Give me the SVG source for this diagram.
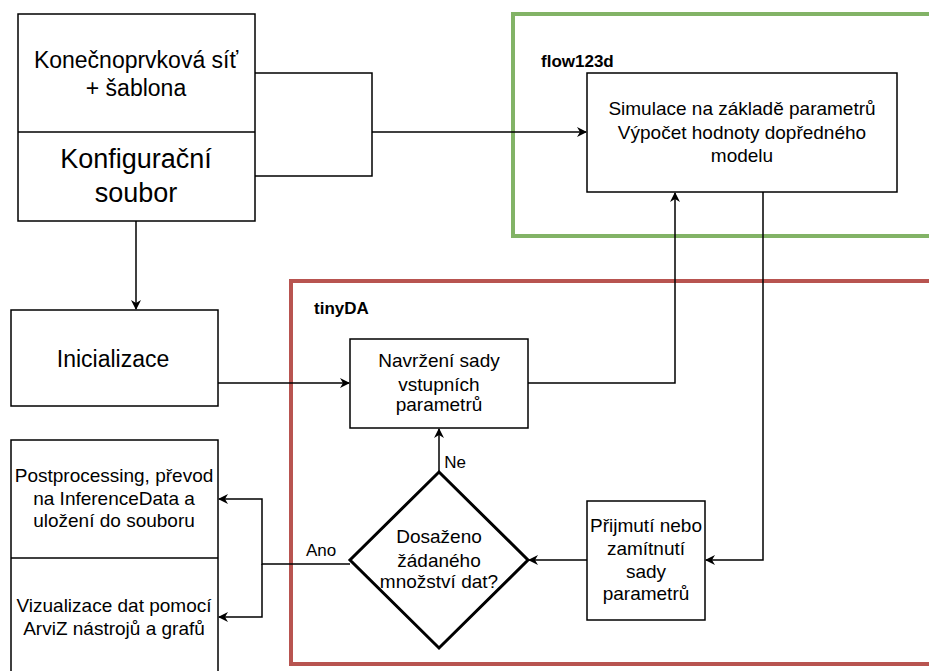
<svg xmlns="http://www.w3.org/2000/svg" width="929" height="671" viewBox="0 0 929 671">
<defs>
<style>
.box{fill:#fff;stroke:#000;stroke-width:1.5}
.t{font-family:"Liberation Sans",Arial,sans-serif;fill:#000;text-anchor:middle}
.s{font-size:19px}
.lbl{font-family:"Liberation Sans",Arial,sans-serif;font-weight:bold;font-size:17px;fill:#000}
.c{fill:none;stroke:#000;stroke-width:1.5}
</style>
<marker id="ah" viewBox="0 0 10 10" refX="9" refY="5" markerWidth="10" markerHeight="10" markerUnits="userSpaceOnUse" orient="auto">
<path d="M0,0 L10,5 L0,10 L3,5 Z" fill="#000"/>
</marker>
</defs>
<rect width="929" height="671" fill="#fff"/>
<g id="flow123d">
<rect x="513" y="14" width="430" height="222" fill="none" stroke="#82b366" stroke-width="4"/>
<text class="lbl" x="541" y="67">flow123d</text>
</g>
<g id="tinyDA">
<rect x="291" y="281" width="660" height="383" fill="none" stroke="#b85450" stroke-width="4"/>
<text class="lbl" x="314" y="314">tinyDA</text>
</g>
<g id="connectors">
<path class="c" d="M255,73 H372 V176 H255"/>
<path class="c" d="M372,132 H586" marker-end="url(#ah)"/>
<path class="c" d="M136,221 V309" marker-end="url(#ah)"/>
<path class="c" d="M218,383 H349" marker-end="url(#ah)"/>
<path class="c" d="M528,383 H675 V193" marker-end="url(#ah)"/>
<path class="c" d="M763,192 V560 H706" marker-end="url(#ah)"/>
<path class="c" d="M587,560 H529" marker-end="url(#ah)"/>
<path class="c" d="M439,472 V429" marker-end="url(#ah)"/>
<path class="c" d="M350,564 H262 V499 H219" marker-end="url(#ah)"/>
<path class="c" d="M262,564 V617 H219" marker-end="url(#ah)"/>
<text class="t" x="455" y="468" font-size="17">Ne</text>
<text class="t" x="321" y="556" font-size="17">Ano</text>
</g>
<g id="inputs">
<rect class="box" x="18" y="14" width="237" height="207"/>
<line x1="18" y1="132" x2="255" y2="132" stroke="#000" stroke-width="1.5"/>
<text class="t" x="136" y="68" font-size="23">Konečnoprvková síť</text>
<text class="t" x="136" y="96" font-size="23">+ šablona</text>
<text class="t" x="136" y="168" font-size="27">Konfigurační</text>
<text class="t" x="136" y="202" font-size="27">soubor</text>
</g>
<g id="simulace">
<rect class="box" x="587" y="73" width="310" height="119"/>
<text class="t s" x="742" y="115">Simulace na základě parametrů</text>
<text class="t s" x="742" y="139">Výpočet hodnoty dopředného</text>
<text class="t s" x="742" y="162">modelu</text>
</g>
<g id="inicializace">
<rect class="box" x="11" y="310" width="207" height="96"/>
<text class="t" x="113" y="367" font-size="23">Inicializace</text>
</g>
<g id="navrzeni">
<rect class="box" x="350" y="339" width="178" height="89"/>
<text class="t s" x="439" y="367">Navržení sady</text>
<text class="t s" x="439" y="391">vstupních</text>
<text class="t s" x="439" y="411">parametrů</text>
</g>
<g id="vystupy">
<rect class="box" x="11" y="440" width="207" height="240"/>
<line x1="11" y1="558" x2="218" y2="558" stroke="#000" stroke-width="1.5"/>
<text class="t s" x="114" y="482">Postprocessing, převod</text>
<text class="t s" x="114" y="505">na InferenceData a</text>
<text class="t s" x="114" y="527">uložení do souboru</text>
<text class="t s" x="114" y="612">Vizualizace dat pomocí</text>
<text class="t s" x="114" y="635">ArviZ nástrojů a grafů</text>
</g>
<g id="rozhodnuti">
<path d="M439,472 L528,560 L439,648 L350,560 Z" fill="#fff" stroke="#000" stroke-width="3"/>
<text class="t s" x="439" y="543">Dosaženo</text>
<text class="t s" x="439" y="567">žádaného</text>
<text class="t s" x="439" y="588">množství dat?</text>
</g>
<g id="prijmuti">
<rect class="box" x="587" y="501" width="118" height="119"/>
<text class="t s" x="646" y="532">Přijmutí nebo</text>
<text class="t s" x="646" y="555">zamítnutí</text>
<text class="t s" x="646" y="578">sady</text>
<text class="t s" x="646" y="600">parametrů</text>
</g>
</svg>
